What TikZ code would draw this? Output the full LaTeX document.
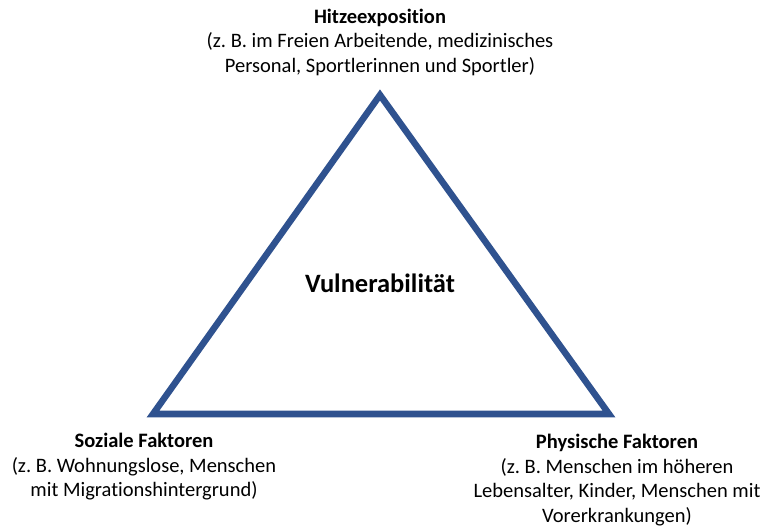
\documentclass[tikz,border=0pt]{standalone}
\usepackage{fontspec}
\setmainfont[Ligatures=NoCommon]{Carlito}
\definecolor{triblue}{RGB}{47,82,143}
\tikzset{
  edge/.style={draw=triblue, line width=6.5pt, line join=miter},
  caption/.style={align=center, inner sep=0pt, font=\fontsize{20.5}{24.5}\selectfont},
  title/.style={inner sep=0pt, font=\fontsize{26.5}{30}\selectfont\bfseries}
}
\begin{document}
\begin{tikzpicture}[x=1pt,y=-1pt]
  \useasboundingbox (0,0) rectangle (763,526);
  % corners of the triangle
  \coordinate (top) at (380,95);
  \coordinate (left) at (153,414);
  \coordinate (right) at (609,414);
  \draw[edge] (top) -- (right) -- (left) -- cycle;

  \node[title] (center) at (380,283) {Vulnerabilität};

  \node[caption] (heat) at (380,42) {\textbf{Hitzeexposition}\\(z.~B. im Freien Arbeitende, medizinisches\\Personal, Sportlerinnen und Sportler)};
  \node[caption] (social) at (144,467) {\textbf{Soziale Faktoren}\\(z.~B. Wohnungslose, Menschen\\mit Migrationshintergrund)};
  \node[caption] (physical) at (617,480) {\textbf{Physische Faktoren}\\(z.~B. Menschen im höheren\\Lebensalter, Kinder, Menschen mit\\Vorerkrankungen)};
\end{tikzpicture}
\end{document}
